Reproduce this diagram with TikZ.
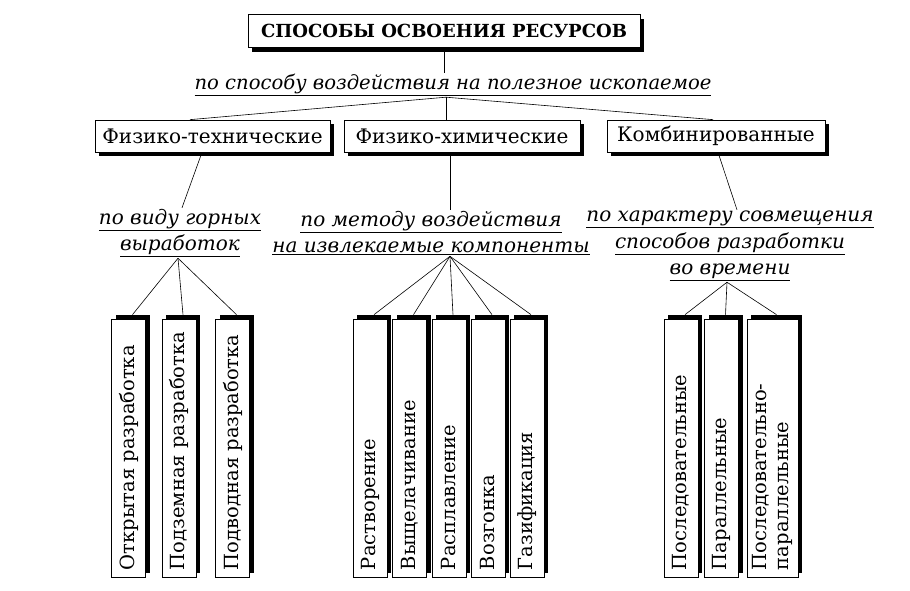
\documentclass[tikz,border=0pt]{standalone}
\usepackage{fontspec}
\setmainfont{DejaVu Serif}
\usetikzlibrary{positioning,shadows}
\tikzset{shbox/.style={draw, fill=white, line width=0.7pt, drop shadow={shadow xshift=4pt, shadow yshift=-4pt, opacity=1, fill=black}}}
\tikzset{rootbox/.style={shbox, font=\bfseries\fontsize{18}{22}\selectfont, minimum width=392pt, minimum height=33pt}}
\tikzset{kindbox/.style={shbox, font=\fontsize{20}{24}\selectfont, minimum height=32pt, inner xsep=4pt}}
\tikzset{crit/.style={font=\itshape\fontsize{20}{26.5}\selectfont, align=center, inner sep=1pt}}
\tikzset{leaf/.style={draw, fill=white, line width=0.7pt, drop shadow={shadow xshift=4pt, shadow yshift=4pt, opacity=1, fill=black}, minimum height=258pt, minimum width=34pt, inner sep=0pt, font=\fontsize{19.5}{22}\selectfont}}
\newcommand{\vtext}[1]{\rotatebox{90}{\parbox{244pt}{\raggedright #1}}}

\begin{document}
\begin{tikzpicture}[x=1pt, y=-1pt, line width=0.6pt]
\useasboundingbox (0,0) rectangle (910,590);
\node[rootbox] at (444, 31) (root) {СПОСОБЫ ОСВОЕНИЯ РЕСУРСОВ};
\node[crit, font=\itshape\fontsize{19.6}{24}\selectfont] at (453, 85) (bywhat) {\underline{по способу воздействия на полезное ископаемое}};
\begin{scope}[every node/.style={kindbox}]
	\node[minimum width=235pt] at (212.5, 136) (phystech) {Физико-технические};
	\node[minimum width=236pt] at (462, 136) (physchem) {Физико-химические};
	\node[minimum width=218pt] at (716, 136) (combined) {Комбинированные};
\end{scope}
\node[crit] at (180, 233) (byworks) {\underline{по виду горных}\\\underline{выработок}};
\node[crit] at (431, 233) (bymethod) {\underline{по методу воздействия}\\
	\underline{на извлекаемые компоненты}};
\node[crit] at (730, 246) (bytime) {\underline{по характеру совмещения}\\
	\underline{способов разработки}\\\underline{во времени}};
\begin{scope}[every node/.style={leaf}]
	\node at (128.5, 448) (open) {\vtext{Открытая разработка}};
	\node at (179, 448) (under) {\vtext{Подземная разработка}};
	\node at (232.5, 448) (sea) {\vtext{Подводная разработка}};
	\node at (370, 448) (dissolve) {\vtext{Растворение}};
	\node at (409.5, 448) (leach) {\vtext{Выщелачивание}};
	\node at (449, 448) (melt) {\vtext{Расплавление}};
	\node at (488, 448) (sublim) {\vtext{Возгонка}};
	\node at (527, 448) (gasify) {\vtext{Газификация}};
	\node at (681, 448) (serial) {\vtext{Последовательные}};
	\node at (721.5, 448) (parallel) {\vtext{Параллельные}};
	\node[minimum width=51pt] at (772.5, 448) (mixed) {\vtext{Последовательно-\\параллельные}};
\end{scope}
\draw (root.south) -- (root.south |- bywhat.north);
\draw ([xshift=-7pt]bywhat.south) -- ([xshift=-22.5pt]phystech.north);
\draw ([xshift=-7pt]bywhat.south) -- ([xshift=-16pt]physchem.north);
\draw ([xshift=-7pt]bywhat.south) -- ([xshift=-3pt]combined.north);
\draw ([xshift=-10.5pt]phystech.south) -- ([xshift=2pt]byworks.north);
\draw ([xshift=-12pt]physchem.south) -- ([xshift=19pt]bymethod.north);
\draw ([xshift=2pt]combined.south) -- ([xshift=7pt]bytime.north);
\foreach \leafname in {open, under, sea}
	\draw ([xshift=-2pt]byworks.south) -- ([xshift=4pt, yshift=4pt]\leafname.north);
\foreach \leafname in {dissolve, leach, melt, sublim, gasify}
	\draw ([xshift=19pt]bymethod.south) -- ([xshift=4pt, yshift=4pt]\leafname.north);
\foreach \leafname in {serial, parallel, mixed}
	\draw ([xshift=-3pt]bytime.south) -- ([xshift=4pt, yshift=4pt]\leafname.north);
\end{tikzpicture}
\end{document}
